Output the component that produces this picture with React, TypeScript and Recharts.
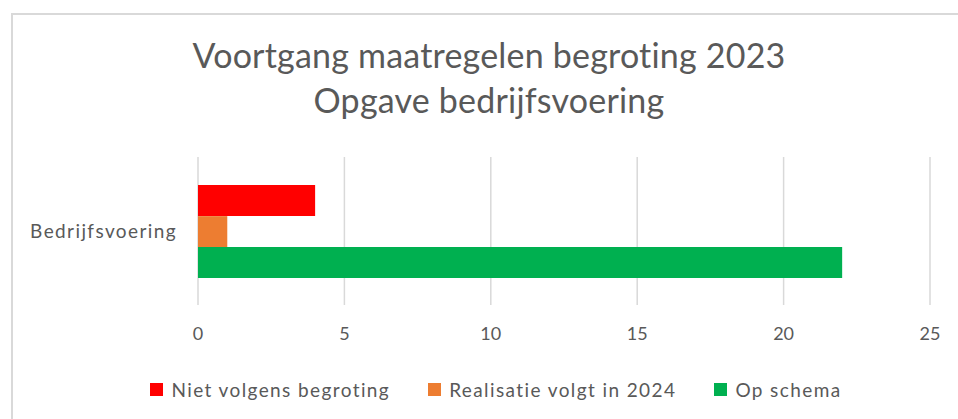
import React from 'react';
import { BarChart, Bar, XAxis, YAxis, CartesianGrid, Legend } from 'recharts';

const categories = ['Bedrijfsvoering'];
const nietVolgens = [4];
const realisatie2024 = [1];
const opSchema = [22];
const xTicks = [0, 5, 10, 15, 20, 25];

const series = [
  { key: 'niet', name: 'Niet volgens begroting', color: '#FF0000' },
  { key: 'real', name: 'Realisatie volgt in 2024', color: '#ED7D31' },
  { key: 'op', name: 'Op schema', color: '#00B050' },
];

const data = categories.map((c, i) => ({
  name: c,
  niet: nietVolgens[i],
  real: realisatie2024[i],
  op: opSchema[i],
}));

const textColor = '#595959';
const font = 'Lato, sans-serif';

const LegendContent = () => (
  <div
    style={{
      display: 'flex',
      justifyContent: 'center',
      alignItems: 'center',
      height: 24,
      fontFamily: font,
      fontSize: 19,
      letterSpacing: 1.4,
      color: textColor,
    }}
  >
    {series.map((s) => (
      <div key={s.key} style={{ display: 'flex', alignItems: 'center', margin: '0 19px' }}>
        <span style={{ width: 13, height: 13, background: s.color, marginRight: 8, display: 'inline-block' }} />
        <span>{s.name}</span>
      </div>
    ))}
  </div>
);

export default function App() {
  return (
    <div style={{ position: 'absolute', left: 0, top: 0, width: 958, height: 419, overflow: 'hidden', background: '#fff' }}>
      <div
        style={{
          position: 'absolute',
          left: 11,
          top: 13,
          width: 980,
          height: 440,
          border: '2px solid #d9d9d9',
          boxSizing: 'border-box',
        }}
      />
      <div
        style={{
          position: 'absolute',
          left: 0,
          top: 32,
          width: 978,
          textAlign: 'center',
          fontFamily: font,
          fontSize: 34,
          letterSpacing: 0.2,
          lineHeight: '45px',
          color: textColor,
        }}
      >
        <div>Voortgang maatregelen begroting 2023</div>
        <div>Opgave bedrijfsvoering</div>
      </div>
      <div style={{ position: 'absolute', left: 0, top: 0 }}>
        <BarChart
          width={958}
          height={419}
          data={data}
          layout="vertical"
          margin={{ top: 157, right: 28, left: 0, bottom: 60 }}
          barCategoryGap="19%"
          barGap={0}
        >
          <CartesianGrid horizontal={false} stroke="#d9d9d9" strokeWidth={1.5} />
          <XAxis
            type="number"
            domain={[0, 25]}
            ticks={xTicks}
            axisLine={false}
            tickLine={false}
            tickSize={0}
            tickMargin={22}
            height={30}
            tick={{ fill: textColor, fontSize: 18, fontFamily: font }}
          />
          <YAxis
            type="category"
            dataKey="name"
            width={198}
            axisLine={false}
            tickLine={false}
            tickSize={0}
            tickMargin={21}
            tick={{ fill: textColor, fontSize: 19, fontFamily: font, letterSpacing: 1.4 }}
          />
          <Legend
            verticalAlign="bottom"
            content={<LegendContent />}
            wrapperStyle={{ top: 377, bottom: 'auto', left: 0, width: 992 }}
          />
          {series.map((s) => (
            <Bar key={s.key} dataKey={s.key} name={s.name} fill={s.color} isAnimationActive={false} />
          ))}
        </BarChart>
      </div>
    </div>
  );
}
